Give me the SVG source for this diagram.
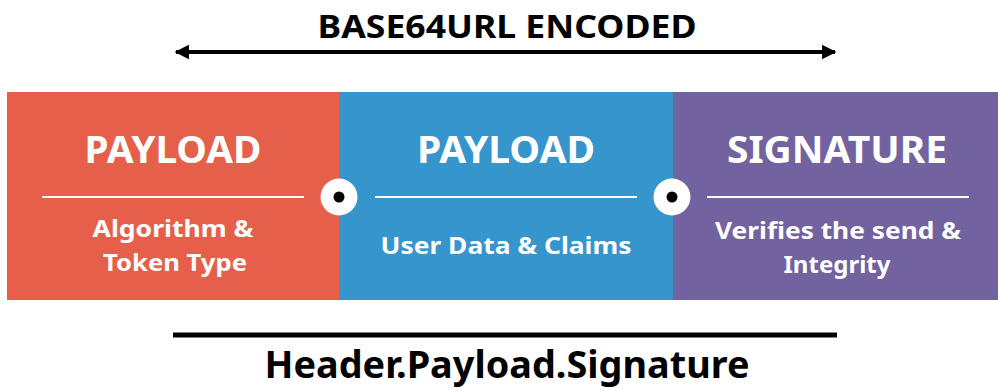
<svg xmlns="http://www.w3.org/2000/svg" width="998" height="390" viewBox="0 0 998 390">
<style>
.title{font-family:"Noto Sans","Open Sans","Liberation Sans",sans-serif;font-weight:bold;fill:#000;text-anchor:middle}
.head{font-family:"Noto Sans","Open Sans","Liberation Sans",sans-serif;font-weight:bold;fill:#fff;font-size:38px;text-anchor:middle}
.sub{font-family:"Noto Sans","Open Sans","Liberation Sans",sans-serif;font-weight:bold;fill:#fff;font-size:23px;text-anchor:middle}
.sep{stroke:#fff;stroke-width:2}
.ring{fill:#fff}
.dot{fill:#000}
</style>
<defs>
<marker id="ah" viewBox="0 0 10 10" refX="9" refY="5" markerWidth="3.6" markerHeight="4.2" orient="auto-start-reverse" markerUnits="strokeWidth">
<path d="M0,0 L10,5 L0,10 Z" fill="#000"/>
</marker>
</defs>
<rect width="998" height="390" fill="#fff"/>
<text class="title" x="507" y="38" font-size="33" textLength="379" lengthAdjust="spacingAndGlyphs">BASE64URL ENCODED</text>
<g id="connectors">
<line x1="176" y1="52" x2="835" y2="52" stroke="#000" stroke-width="4" marker-start="url(#ah)" marker-end="url(#ah)"/>
<line x1="173" y1="335" x2="837" y2="335" stroke="#000" stroke-width="5"/>
</g>
<g id="header">
<rect x="7" y="92" width="332" height="208" fill="#E65F4A"/>
<text class="head" x="173" y="163" textLength="177" lengthAdjust="spacingAndGlyphs">PAYLOAD</text>
<line class="sep" x1="42" y1="197" x2="304" y2="197"/>
<text class="sub" x="173" y="237" textLength="161" lengthAdjust="spacingAndGlyphs">Algorithm &amp;</text>
<text class="sub" x="175" y="271" textLength="144" lengthAdjust="spacingAndGlyphs">Token Type</text>
</g>
<g id="payload">
<rect x="339" y="92" width="334" height="208" fill="#3595CC"/>
<text class="head" x="506" y="163" textLength="178" lengthAdjust="spacingAndGlyphs">PAYLOAD</text>
<line class="sep" x1="375" y1="197" x2="637" y2="197"/>
<text class="sub" x="506" y="254" textLength="251" lengthAdjust="spacingAndGlyphs">User Data &amp; Claims</text>
</g>
<g id="signature">
<rect x="673" y="92" width="325" height="208" fill="#72629F"/>
<text class="head" x="837" y="163" textLength="220" lengthAdjust="spacingAndGlyphs">SIGNATURE</text>
<line class="sep" x1="707" y1="197" x2="969" y2="197"/>
<text class="sub" x="838" y="239" textLength="246" lengthAdjust="spacingAndGlyphs">Verifies the send &amp;</text>
<text class="sub" x="837" y="273" textLength="107" lengthAdjust="spacingAndGlyphs">Integrity</text>
</g>
<g id="dot1">
<circle class="ring" cx="339" cy="197" r="18.5"/>
<circle class="dot" cx="339" cy="197" r="5.5"/>
</g>
<g id="dot2">
<circle class="ring" cx="672" cy="197" r="18.5"/>
<circle class="dot" cx="672" cy="197" r="5.5"/>
</g>
<text class="title" x="507" y="378" font-size="38" textLength="485" lengthAdjust="spacingAndGlyphs">Header.Payload.Signature</text>
</svg>
